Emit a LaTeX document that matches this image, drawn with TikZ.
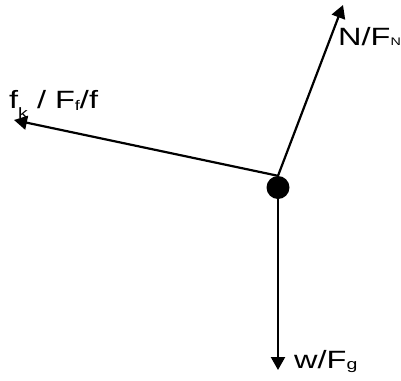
\documentclass[tikz,border=0pt]{standalone}
\usepackage{fontspec}
\setmainfont{Liberation Sans}
\usepackage{graphicx}
\usetikzlibrary{arrows.meta}
\newcommand{\fbdsub}[3]{\raisebox{-#1}{\fontsize{#2}{#2}\selectfont #3}}
\newcommand{\fbdwide}[1]{\scalebox{1.3}[1]{#1}}
\tikzset{
  fbd dot/.style={circle, fill=black, inner sep=0pt, minimum size=23bp},
  fbd arrow/.style={-{Triangle[length=13bp,width=14bp]}, line width=2.2bp, black},
  fbd label/.style={inner sep=0pt, anchor=base west, font=\fontsize{25bp}{28bp}\selectfont}
}
\begin{document}
\begin{tikzpicture}[x=1bp, y=-1bp]
\useasboundingbox (0,0) rectangle (401,381);
\node[fbd dot] (obj) at (278,187.5) {};
\coordinate (ntip) at (343,5);
\coordinate (ftip) at (14,120);
\coordinate (wtip) at (278,370);
\draw[fbd arrow] (obj.north) -- (ntip);
\draw[fbd arrow] (obj.north) -- (ftip);
\draw[fbd arrow] (obj.center) -- (wtip);
\node[fbd label] (nlab) at (338,45.7) {\fbdwide{N/F\fbdsub{0bp}{11bp}{N}}};
\node[fbd label] (flab) at (9,108) {\fbdwide{f\fbdsub{10bp}{15bp}{k} / F\fbdsub{2bp}{14bp}{f}/f}};
\node[fbd label] (wlab) at (294,368) {\fbdwide{w/F\fbdsub{1bp}{15bp}{g}}};
\end{tikzpicture}
\end{document}
